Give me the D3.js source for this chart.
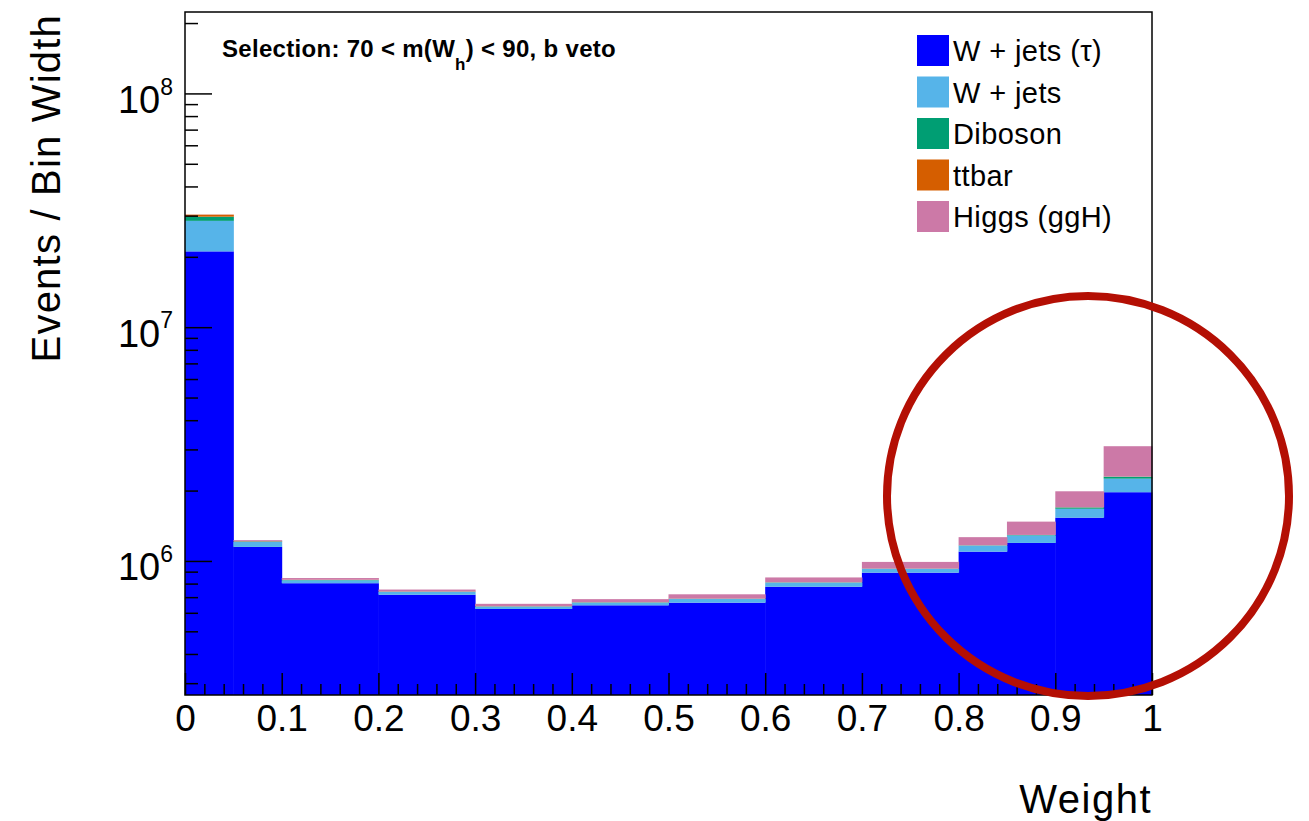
<!DOCTYPE html>
<html>
<head>
<meta charset="utf-8">
<script src="https://cdn.jsdelivr.net/npm/d3@7"></script>
<style>
  body { margin: 0; background: #fff; }
  text { font-family: "Liberation Sans", Arial, Helvetica, sans-serif; }
</style>
</head>
<body>
<div id="svg"></div>
<script>
// bin edges (variable width) and per-process values (events / bin width)
const binEdges = [0, 0.05, 0.1, 0.2, 0.3, 0.4, 0.5, 0.6, 0.7, 0.8, 0.85, 0.9, 0.95, 1.0]
const processes = ["W + jets (\u03c4)", "W + jets", "Diboson", "ttbar", "Higgs (ggH)"]
const colors = ["#0000ff", "#56b4e9", "#009e73", "#d55e00", "#cc79a7"]

const wjetsTau = [2.11e7, 1.148e6, 8.03e5, 7.17e5, 6.23e5, 6.46e5, 6.63e5, 7.76e5, 8.91e5, 1.096e6, 1.194e6, 1.532e6, 1.968e6]
const wjets    = [7.4e6, 5.7e4, 2.3e4, 2.0e4, 1.5e4, 1.8e4, 2.4e4, 3.2e4, 3.3e4, 6.7e4, 9.2e4, 1.40e5, 2.81e5]
const diboson  = [1.2e6, 6e3, 3e3, 2e3, 1.5e3, 1.5e3, 2e3, 2e3, 2.5e3, 3e3, 5e3, 2.2e4, 4.4e4]
const ttbar    = [6e5, 3e3, 2e3, 1.5e3, 1e3, 1e3, 1e3, 1e3, 1e3, 1e3, 1e3, 2e3, 3e3]
const higgs    = [3e4, 1.3e4, 1.4e4, 1.4e4, 1.5e4, 2.0e4, 3.0e4, 3.9e4, 6.3e4, 9.7e4, 1.81e5, 2.9e5, 8.0e5]

const xMajorTicks = d3.range(0, 1.0001, 0.1)
const yMajorTicks = [1e6, 1e7, 1e8]

const width = 1309
const height = 821
const margin = {left: 185, right: 157, top: 12, bottom: 126}

const series = [wjetsTau, wjets, diboson, ttbar, higgs]
const table = binEdges.slice(0, -1).map((lo, i) => {
    const row = {lo: lo, hi: binEdges[i + 1]}
    processes.forEach((p, k) => row[p] = series[k][i])
    return row
})

const x = d3.scaleLinear()
    .domain([0, 1])
    .range([margin.left, width - margin.right])

const y = d3.scaleLog()
    .domain([2.67e5, 2.23e8])
    .range([height - margin.bottom, margin.top])
    .clamp(true)

const stacked = d3.stack().keys(processes)(table)

const svg = d3.select("#svg")
    .append("svg")
    .attr("width", width)
    .attr("height", height)

svg.selectAll("g.layer")
    .data(stacked)
    .join("g")
    .attr("class", "layer")
    .attr("fill", (d, i) => colors[i])
    .selectAll("rect")
    .data(d => d)
    .join("rect")
    .attr("x", d => x(d.data.lo))
    .attr("width", d => x(d.data.hi) - x(d.data.lo) + 0.5)
    .attr("y", d => y(d[1]))
    .attr("height", d => Math.max(0, y(Math.max(d[0], y.domain()[0])) - y(d[1])))

// x axis: major + minor ticks pointing up into the frame
const xMinor = d3.range(0, 1.0001, 0.02).filter(v => Math.abs(v * 10 - Math.round(v * 10)) > 1e-6)
svg.append("g")
    .attr("transform", `translate(0,${height - margin.bottom})`)
    .call(d3.axisBottom(x).tickValues(xMinor).tickSize(-11).tickFormat(""))
    .call(g => g.select(".domain").remove())

svg.append("g")
    .attr("transform", `translate(0,${height - margin.bottom})`)
    .call(d3.axisBottom(x).tickValues(xMajorTicks).tickSize(-22).tickPadding(10)
        .tickFormat(d => d === 0 ? "0" : d === 1 ? "1" : d3.format(".1f")(d)))
    .call(g => g.select(".domain").remove())
    .call(g => g.selectAll("text").attr("font-size", 37).attr("fill", "#000")
        .attr("font-family", "Liberation Sans, Arial, sans-serif"))

// y axis: log ticks
const yMinor = []
for (let e = 5; e <= 8; e++) {
    for (let m = 2; m <= 9; m++) {
        const v = m * Math.pow(10, e)
        if (v >= y.domain()[0] && v <= y.domain()[1]) yMinor.push(v)
    }
}
svg.append("g")
    .attr("transform", `translate(${margin.left},0)`)
    .call(d3.axisLeft(y).tickValues(yMinor).tickSize(-13).tickFormat(""))
    .call(g => g.select(".domain").remove())

svg.append("g")
    .attr("transform", `translate(${margin.left},0)`)
    .call(d3.axisLeft(y).tickValues(yMajorTicks).tickSize(-27).tickPadding(30).tickFormat(""))
    .call(g => g.select(".domain").remove())
    .call(g => g.selectAll(".tick").each(function(d) {
        const t = d3.select(this).select("text")
            .attr("font-size", 38)
            .attr("fill", "#000")
            .attr("font-family", "Liberation Sans, Arial, sans-serif")
            .attr("x", -12)
            .attr("dy", "0.5em")
            .attr("text-anchor", "end")
        t.append("tspan").text("10")
        t.append("tspan").text(Math.round(Math.log10(d)))
            .attr("font-size", 23).attr("dy", "-0.8em")
    }))

svg.selectAll(".tick line").attr("stroke", "#000").attr("stroke-width", 1.5)

// frame
svg.append("rect")
    .attr("x", x(0))
    .attr("y", margin.top)
    .attr("width", x(1) - x(0))
    .attr("height", height - margin.bottom - margin.top)
    .attr("fill", "none")
    .attr("stroke", "#000")
    .attr("stroke-width", 1.5)

// axis titles
svg.append("text")
    .attr("x", x(1))
    .attr("y", 813)
    .attr("text-anchor", "end")
    .attr("font-size", 40)
    .attr("letter-spacing", 1.5)
    .text("Weight")

svg.append("text")
    .attr("transform", `translate(60,${margin.top + 2}) rotate(-90)`)
    .attr("text-anchor", "end")
    .attr("font-size", 40)
    .attr("letter-spacing", 1.2)
    .text("Events / Bin Width")

// selection label
const sel = svg.append("text")
    .attr("x", 222)
    .attr("y", 57)
    .attr("font-size", 24)
    .attr("font-weight", "bold")
    .attr("letter-spacing", 0.3)
sel.append("tspan").text("Selection: 70 < m(W")
sel.append("tspan").text("h").attr("font-size", 17).attr("dy", 13)
sel.append("tspan").text(") < 90, b veto").attr("dy", -13)

// legend
const legend = svg.append("g")
    .selectAll("g")
    .data(processes)
    .join("g")
    .attr("transform", (d, i) => `translate(917,${35 + i * 41.5})`)

legend.append("rect")
    .attr("width", 32)
    .attr("height", 31)
    .attr("fill", (d, i) => colors[i])

legend.append("text")
    .attr("x", 36)
    .attr("y", 26)
    .attr("font-size", 29)
    .attr("letter-spacing", 0.4)
    .text(d => d)

// annotation circle
svg.append("ellipse")
    .attr("cx", 1088)
    .attr("cy", 496)
    .attr("rx", 201)
    .attr("ry", 200)
    .attr("fill", "none")
    .attr("stroke", "#b40f04")
    .attr("stroke-width", 8)
</script>
</body>
</html>
